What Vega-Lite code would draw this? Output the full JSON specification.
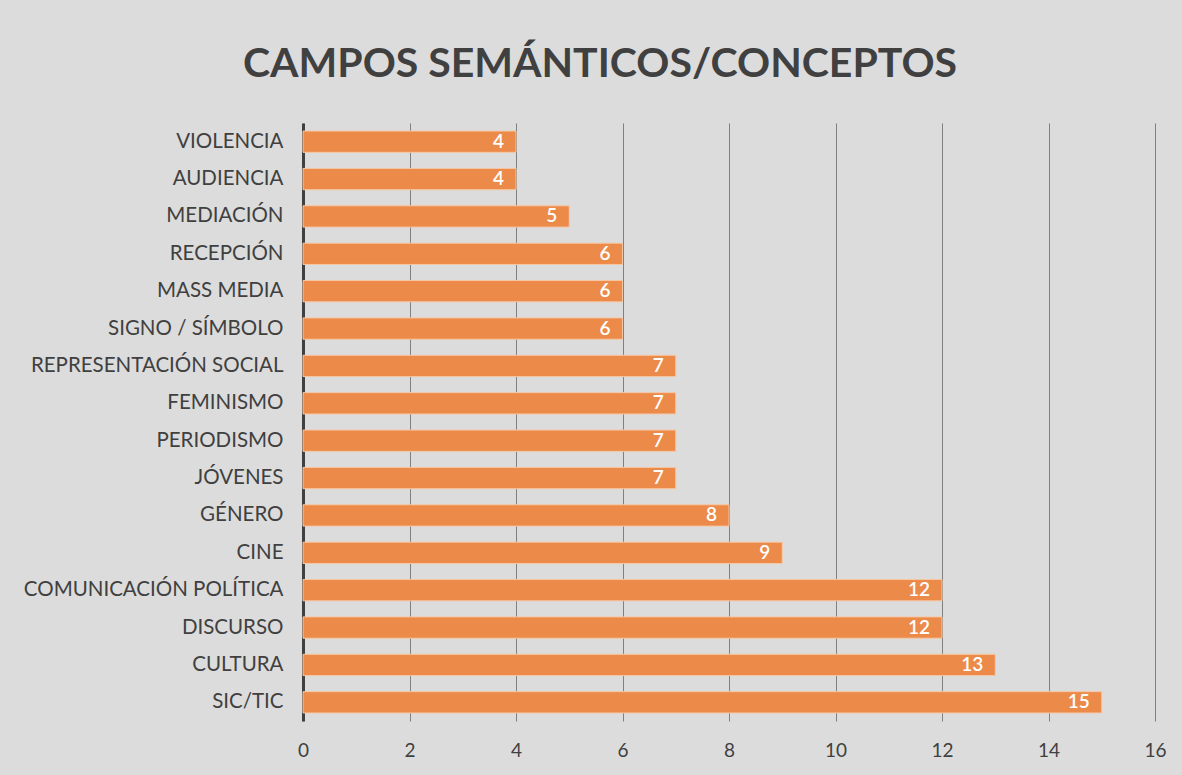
{
  "$schema": "https://vega.github.io/schema/vega-lite/v6.json",
  "width": 852,
  "height": 598,
  "autosize": {"type": "none"},
  "padding": {"left": 303, "top": 123, "right": 27, "bottom": 54},
  "background": "#dcdcdc",
  "title": {
    "text": "CAMPOS SEMÁNTICOS/CONCEPTOS",
    "font": "Lato",
    "fontSize": 41,
    "fontWeight": "bold",
    "color": "#404040",
    "anchor": "middle",
    "dx": -129,
    "offset": 37
  },
  "data": {
    "values": [
      {"concepto": "VIOLENCIA", "valor": 4},
      {"concepto": "AUDIENCIA", "valor": 4},
      {"concepto": "MEDIACIÓN", "valor": 5},
      {"concepto": "RECEPCIÓN", "valor": 6},
      {"concepto": "MASS MEDIA", "valor": 6},
      {"concepto": "SIGNO / SÍMBOLO", "valor": 6},
      {"concepto": "REPRESENTACIÓN SOCIAL", "valor": 7},
      {"concepto": "FEMINISMO", "valor": 7},
      {"concepto": "PERIODISMO", "valor": 7},
      {"concepto": "JÓVENES", "valor": 7},
      {"concepto": "GÉNERO", "valor": 8},
      {"concepto": "CINE", "valor": 9},
      {"concepto": "COMUNICACIÓN POLÍTICA", "valor": 12},
      {"concepto": "DISCURSO", "valor": 12},
      {"concepto": "CULTURA", "valor": 13},
      {"concepto": "SIC/TIC", "valor": 15}
    ]
  },
  "encoding": {
    "y": {
      "field": "concepto",
      "type": "nominal",
      "sort": null,
      "scale": {"paddingInner": 0.43, "paddingOuter": 0.215},
      "axis": {
        "title": null,
        "ticks": false,
        "labelFont": "Lato",
        "labelFontSize": 20.5,
        "labelColor": "#404040",
        "labelPadding": 20,
        "labelLimit": 0,
        "domainColor": "#404040",
        "domainWidth": 3,
        "grid": false
      }
    },
    "x": {
      "field": "valor",
      "type": "quantitative",
      "scale": {"domain": [0, 16]},
      "axis": {
        "title": null,
        "values": [0, 2, 4, 6, 8, 10, 12, 14, 16],
        "ticks": false,
        "domain": false,
        "grid": true,
        "gridColor": "#808080",
        "gridWidth": 1,
        "labelFont": "Lato",
        "labelFontSize": 19,
        "labelColor": "#404040",
        "labelPadding": 20,
        "labelFlush": false
      }
    }
  },
  "layer": [
    {
      "mark": {"type": "bar", "color": "#ec8a4a", "stroke": "#f6c7a4", "strokeWidth": 1}
    },
    {
      "mark": {"type": "text", "align": "right", "dx": -12, "color": "white", "font": "Lato", "fontSize": 19, "fontWeight": 600},
      "encoding": {"text": {"field": "valor", "type": "quantitative"}}
    }
  ],
  "config": {"view": {"stroke": null}}
}
